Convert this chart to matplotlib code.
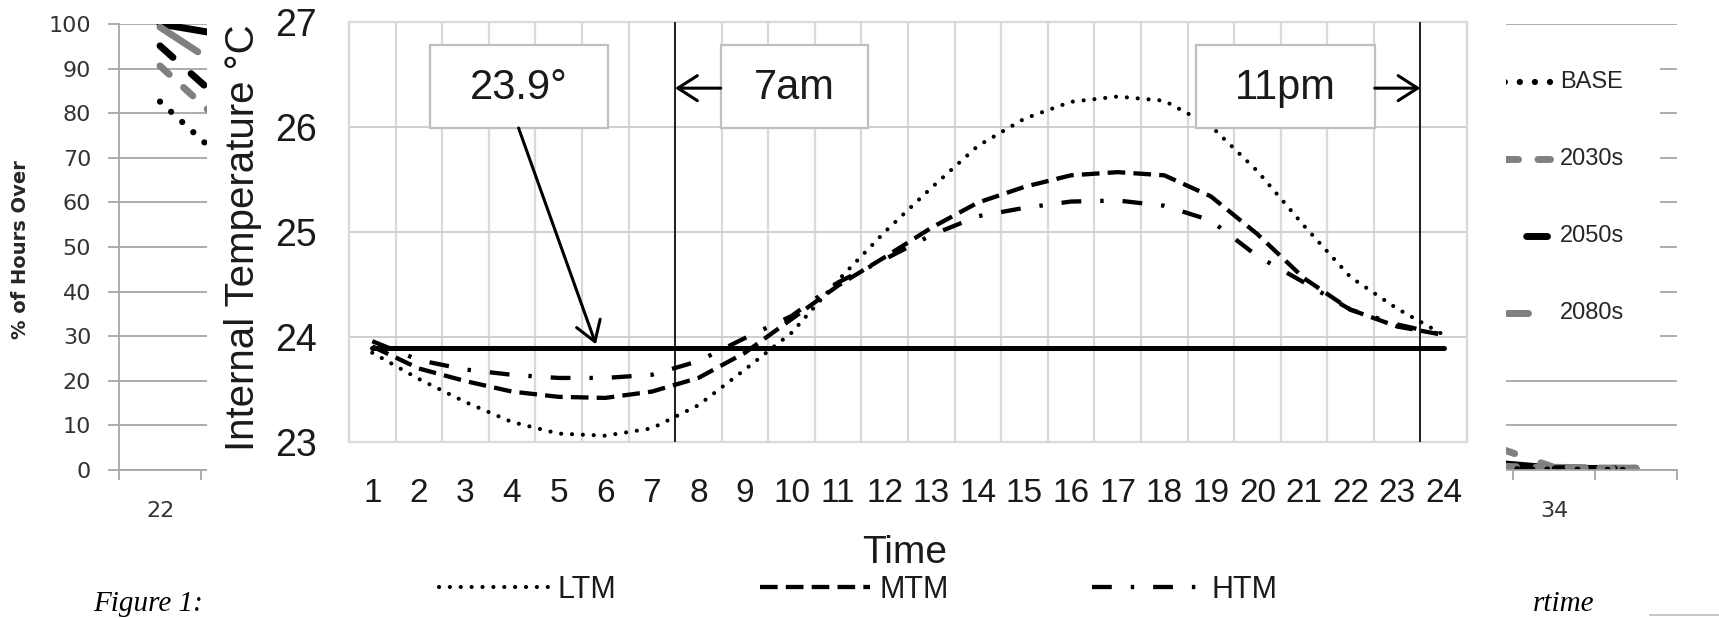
import numpy as np
import matplotlib
matplotlib.use('Agg')
import matplotlib.pyplot as plt
from matplotlib.patches import Rectangle
from matplotlib.lines import Line2D

plt.rcParams['font.family'] = ['Liberation Sans', 'DejaVu Sans']

# hourly internal temperature (main chart)
hours = list(range(1, 25))
ltm = [23.85, 23.60, 23.38, 23.19, 23.08, 23.06, 23.13, 23.35, 23.69, 24.04, 24.54, 25.00,
       25.42, 25.82, 26.08, 26.24, 26.29, 26.25, 26.01, 25.58, 25.06, 24.57, 24.27, 24.02]
mtm = [23.91, 23.70, 23.58, 23.48, 23.43, 23.42, 23.48, 23.61, 23.85, 24.17, 24.49, 24.76,
       25.04, 25.28, 25.43, 25.54, 25.57, 25.54, 25.34, 24.98, 24.56, 24.26, 24.10, 24.02]
htm = [23.96, 23.78, 23.69, 23.64, 23.61, 23.61, 23.64, 23.77, 23.99, 24.20, 24.52, 24.74,
       24.97, 25.15, 25.23, 25.29, 25.30, 25.25, 25.11, 24.77, 24.52, 24.26, 24.12, 24.02]
threshold = 23.9
start_7am = 7.5
end_11pm = 23.5
temp_ticks = [23, 24, 25, 26, 27]

# chart underneath, mostly hidden by the main one
nan = np.nan
bg_cats = list(range(19))
bg_label_pos = [0, 17]
bg_labels = ['22', '34']
bg_yticks = list(range(0, 101, 10))
base = [82.6, 65.7] + [nan] * 14 + [0.3, 0.1, 0.0]
s2030 = [90.6, 73.8] + [nan] * 14 + [1.0, 0.5, 0.4]
s2050 = [95.1, 78.7] + [nan] * 14 + [1.5, 0.3, 0.3]
s2080 = [99.3, 87.3] + [nan] * 14 + [7.0, 0.6, 0.4]
other = [100.0, 96.9] + [nan] * 14 + [2.0, 0.4, 0.3]

W, H = 1719, 618


def fx(px):
    return px / W


def fy(py):
    return 1 - py / H


fig = plt.figure(figsize=(17.19, 6.18), dpi=100)
fig.patch.set_facecolor('white')

# ---- background chart ----
bg = fig.add_axes([fx(119), fy(470), fx(1677) - fx(119), fy(24) - fy(470)], zorder=0)
bg.set_xlim(-0.5, 18.5)
bg.set_ylim(0, 100)
grid_gray = '#a6a6a6'
bg.plot(bg_cats, other, color='black', lw=5, solid_capstyle='round')
bg.plot(bg_cats, s2080, color='#808080', lw=5, linestyle=(0, (6.5, 4.0)), dash_capstyle='round')
bg.plot(bg_cats, s2050, color='black', lw=5, linestyle=(0, (2.5, 3.5)), dash_capstyle='round')
bg.plot(bg_cats, s2030, color='#808080', lw=5, linestyle=(0, (1.8, 2.8)), dash_capstyle='round')
bg.plot(bg_cats, base, color='black', lw=4.5, linestyle=(0, (0.01, 2.4)), dash_capstyle='round')
bg.set_yticks(bg_yticks, labels=[str(v) for v in bg_yticks], fontfamily='DejaVu Sans', fontsize=16)
bg.set_xticks(np.arange(-0.5, 19, 1))
bg.set_xticks(bg_label_pos, labels=bg_labels, minor=True, fontfamily='DejaVu Sans', fontsize=16)
bg.tick_params(axis='x', which='major', labelbottom=False, length=7, color=grid_gray, width=1.3)
bg.tick_params(axis='x', which='minor', length=0, pad=22, labelcolor='#333333')
bg.tick_params(axis='y', length=8, color=grid_gray, width=1.3, pad=12, labelcolor='#333333')
bg.grid(axis='y', color=grid_gray, lw=1.3)
for s in ['top', 'right']:
    bg.spines[s].set_visible(False)
for s in ['left', 'bottom']:
    bg.spines[s].set_color(grid_gray)
    bg.spines[s].set_linewidth(1.3)

# legend of the background chart (left part is hidden)
bg.add_patch(Rectangle((fx(1420), fy(362)), fx(1660) - fx(1420), fy(38) - fy(362),
                       transform=fig.transFigure, fc='white', ec='none', zorder=5))
leg_items = [('BASE', 'black', 4.5, (0, (0.01, 2.4)), 1550),
             ('2030s', '#808080', 5, (0, (1.8, 2.8)), 1550),
             ('2050s', 'black', 5, (0, (3.0, 4.0)), 1547),
             ('2080s', '#808080', 5, (0, (3.0, 4.0)), 1528)]
for i, (name, col, lw, ls, x_end) in enumerate(leg_items):
    yy = fy(82 + 77 * i)
    bg.add_line(Line2D([x_end / W, fx(1440)], [yy, yy], transform=fig.transFigure, color=col,
                       lw=lw, linestyle=ls, dash_capstyle='round', zorder=6))
    bg.text(fx(1560), yy, name, transform=fig.transFigure, va='center', ha='left', fontsize=17,
            color='#262626', zorder=6)

fig.text(fx(20), fy(250), '% of Hours Over', rotation=90, ha='center', va='center',
         fontsize=14, fontweight='bold', family='DejaVu Sans', color='#262626', zorder=0.5)
fig.text(fx(93), fy(611), 'Figure 1:', ha='left', va='baseline', fontsize=21,
         family='Liberation Serif', style='italic', zorder=0.5)
fig.text(fx(1533), fy(611), 'rtime', ha='left', va='baseline', fontsize=21,
         family='Liberation Serif', style='italic', zorder=0.5)
fig.add_artist(Line2D([fx(1650), fx(1719)], [fy(615), fy(615)], color='#bfbfbf', lw=1.2, zorder=0.5))

# ---- white area of the main chart ----
fig.add_artist(Rectangle((fx(207), 0), fx(1506) - fx(207), 1, transform=fig.transFigure,
                         fc='white', ec='none', zorder=1))

# ---- main chart ----
ax = fig.add_axes([fx(349), fy(442), fx(1467) - fx(349), fy(22) - fy(442)], zorder=2)
ax.set_xlim(0.5, 24.5)
ax.set_ylim(23, 27)
ax.set_xticks(hours)
ax.set_xticks(np.arange(0.5, 25, 1), minor=True)
ax.set_yticks(temp_ticks)
ax.grid(which='minor', axis='x', color='#d9d9d9', lw=1.6)
ax.grid(which='major', axis='y', color='#cfcfcf', lw=1.4)
ax.tick_params(which='both', length=0)
ax.tick_params(axis='x', labelsize=24, pad=26, labelcolor='#1a1a1a')
ax.tick_params(axis='y', labelsize=27, pad=23, labelcolor='#1a1a1a')
for s in ax.spines.values():
    s.set_color('#d9d9d9')
    s.set_linewidth(1.6)
ax.set_axisbelow(True)

ax.plot(hours, [threshold] * len(hours), color='black', lw=3.6, solid_capstyle='round', zorder=2.5)
l1, = ax.plot(hours, ltm, color='black', lw=3.0, linestyle=(0, (0.01, 2.6)),
              dash_capstyle='round', label='LTM', zorder=3)
l2, = ax.plot(hours, mtm, color='black', lw=3.1, linestyle=(0, (4.1, 1.9)), label='MTM', zorder=3)
l3, = ax.plot(hours, htm, color='black', lw=3.1, linestyle=(0, (4.6, 4.4, 0.8, 4.4)),
              label='HTM', zorder=3)
ax.axvline(start_7am, color='black', lw=1.2, zorder=3)
ax.axvline(end_11pm, color='black', lw=1.2, zorder=3)

# annotation boxes
boxes = [(2.23, 6.07, '23.9°'), (8.48, 11.64, '7am'), (18.68, 22.52, '11pm')]
for x0, x1, txt in boxes:
    ax.add_patch(Rectangle((x0, 25.99), x1 - x0, 26.78 - 25.99, fc='white', ec='#bfbfbf',
                           lw=1.6, zorder=4))
    ax.text((x0 + x1) / 2, 26.37, txt, ha='center', va='center', fontsize=30, color='#1a1a1a',
            zorder=5)
arrow = dict(arrowstyle='->,head_length=0.7,head_width=0.45', lw=2.2, color='black',
             shrinkA=0, shrinkB=0, mutation_scale=20)
ax.annotate('', xy=(5.80, threshold + 0.03), xytext=(4.14, 25.99), arrowprops=arrow, zorder=5)
ax.annotate('', xy=(start_7am, 26.37), xytext=(8.48, 26.37), arrowprops=arrow, zorder=5)
ax.annotate('', xy=(end_11pm, 26.37), xytext=(22.52, 26.37), arrowprops=arrow, zorder=5)

fig.text(fx(243), fy(238), 'Internal Temperature °C', rotation=90, ha='center', va='center',
         fontsize=29, color='#1a1a1a', zorder=3)
fig.text(fx(905), fy(553), 'Time', ha='center', va='center', fontsize=28, color='#1a1a1a', zorder=3)
ax.legend(handles=[l1, l2, l3], ncol=3, loc='center', bbox_to_anchor=(fx(858), fy(590)),
          bbox_transform=fig.transFigure, frameon=False, fontsize=22, handlelength=3.6,
          handletextpad=0.3, columnspacing=4.7, labelcolor='#1a1a1a')

fig.savefig('out.png', dpi=100)
